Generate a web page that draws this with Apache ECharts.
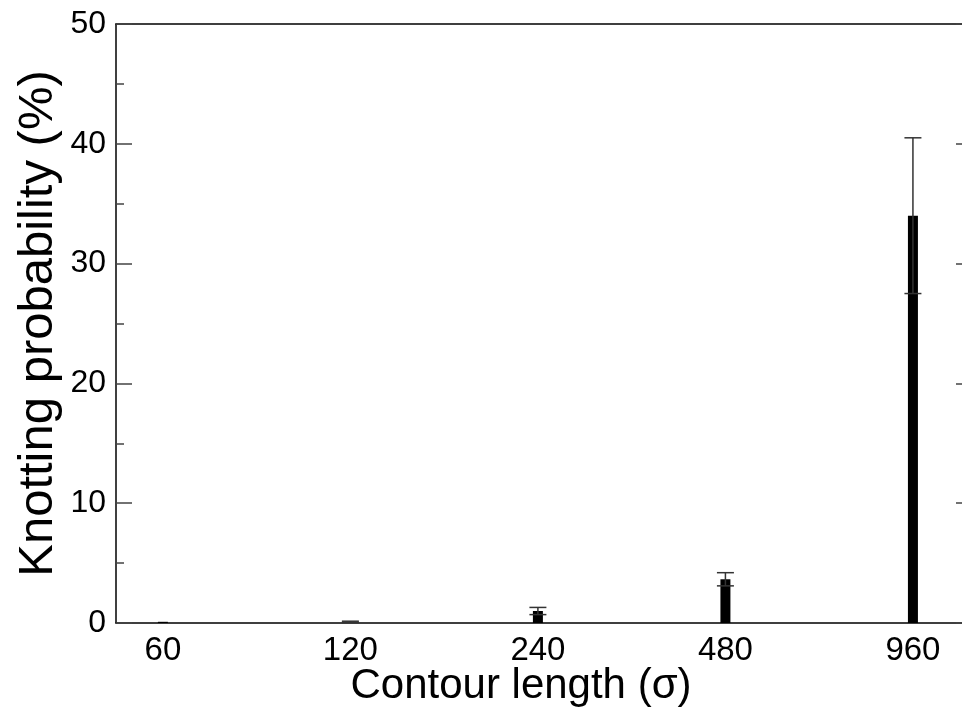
<!DOCTYPE html>
<html>
<head>
<meta charset="utf-8">
<script src="https://cdn.jsdelivr.net/npm/echarts@6/dist/echarts.min.js"></script>
<style>
  html, body { margin: 0; padding: 0; background: #fff; }
  #chart { width: 962px; height: 711px; }
</style>
</head>
<body>
<div id="chart"></div>
<script>
// Contour lengths (in sigma) and knotting probabilities (%)
const lengths = ['60', '120', '240', '480', '960'];
const probability = [0.1, 0.1, 1.0, 3.65, 34.0];
const errorHalf = [0, 0.05, 0.3, 0.55, 6.5];
const yTicks = [0, 10, 20, 30, 40, 50];

const FONT = 'Liberation Sans, Arial, sans-serif';
const positions = lengths.map((_, i) => i);

const barData = positions.map((x, i) => [x, probability[i]]);
const errData = positions
  .map((x, i) => [x, probability[i] - errorHalf[i], probability[i] + errorHalf[i]])
  .filter((d, i) => errorHalf[i] > 0);

const chart = echarts.init(document.getElementById('chart'), null, { renderer: 'canvas' });

const frameLine = { show: true, onZero: false, lineStyle: { color: '#000', width: 1.5 } };

chart.setOption({
  animation: false,
  backgroundColor: '#fff',
  // the plot frame runs past the right edge of the canvas
  grid: { left: 116, top: 24, width: 856, height: 599, containLabel: false, outerBoundsMode: 'none' },
  xAxis: [
    {
      type: 'value',
      position: 'bottom',
      min: -0.25,
      max: 4.315,
      splitLine: { show: false },
      axisLine: frameLine,
      axisTick: { show: false },
      axisLabel: {
        customValues: positions,
        formatter: v => lengths[Math.round(v)],
        fontFamily: FONT,
        fontSize: 33,
        color: '#000',
        margin: 11
      },
      name: 'Contour length (σ)',
      nameLocation: 'middle',
      nameGap: 42,
      nameMoveOverlap: false,
      nameTextStyle: { fontFamily: FONT, fontSize: 42, color: '#000', padding: [0, 46, 0, 0] }
    },
    {
      type: 'value',
      position: 'top',
      min: -0.25,
      max: 4.315,
      splitLine: { show: false },
      axisLine: frameLine,
      axisTick: { show: false },
      axisLabel: { show: false }
    }
  ],
  yAxis: [
    {
      type: 'value',
      position: 'left',
      min: yTicks[0],
      max: yTicks[yTicks.length - 1],
      interval: 10,
      splitLine: { show: false },
      axisLine: frameLine,
      axisTick: { show: true, inside: true, length: 16, lineStyle: { color: '#444', width: 1.5 } },
      minorTick: { show: true, splitNumber: 2, length: 8, lineStyle: { color: '#444', width: 1.5 } },
      axisLabel: {
        fontFamily: FONT,
        fontSize: 32,
        color: '#000',
        margin: 10
      },
      name: 'Knotting probability (%)',
      nameLocation: 'middle',
      nameGap: 53,
      nameMoveOverlap: false,
      nameTextStyle: { fontFamily: FONT, fontSize: 49, color: '#000' }
    },
    {
      type: 'value',
      position: 'right',
      min: yTicks[0],
      max: yTicks[yTicks.length - 1],
      interval: 10,
      splitLine: { show: false },
      axisLine: frameLine,
      axisTick: { show: true, inside: true, length: 16, lineStyle: { color: '#444', width: 1.5 } },
      axisLabel: { show: false }
    }
  ],
  series: [
    {
      type: 'bar',
      xAxisIndex: 0,
      yAxisIndex: 0,
      data: barData,
      barWidth: 10,
      itemStyle: { color: '#000' },
      z: 2
    },
    {
      type: 'custom',
      xAxisIndex: 0,
      yAxisIndex: 0,
      data: errData,
      z: 3,
      renderItem: function (params, api) {
        const x = api.value(0);
        const lo = api.coord([x, api.value(1)]);
        const hi = api.coord([x, api.value(2)]);
        const half = 8.5;
        const style = { stroke: '#333', lineWidth: 1.5 };
        return {
          type: 'group',
          children: [
            { type: 'line', shape: { x1: hi[0], y1: hi[1], x2: lo[0], y2: lo[1] }, style },
            { type: 'line', shape: { x1: hi[0] - half, y1: hi[1], x2: hi[0] + half, y2: hi[1] }, style },
            { type: 'line', shape: { x1: lo[0] - half, y1: lo[1], x2: lo[0] + half, y2: lo[1] }, style }
          ]
        };
      }
    }
  ]
});
</script>
</body>
</html>
